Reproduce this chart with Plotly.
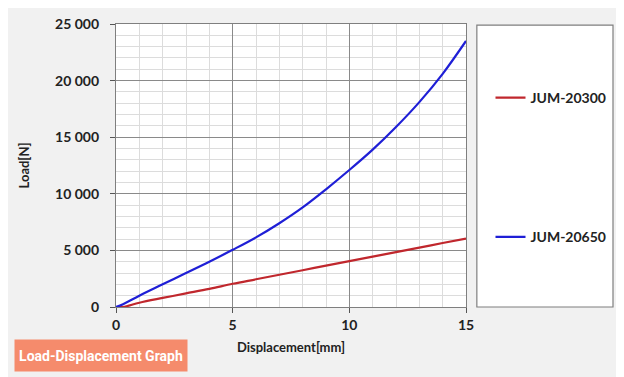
import plotly.graph_objects as go

# displacement [mm] and load [N]
disp = [0, 0.3, 1, 2, 3, 4, 5, 6, 7, 8, 9, 10, 11, 12, 13, 14, 15]
load_20300 = [0, 0, 380, 800, 1200, 1600, 2050, 2450, 2850, 3250, 3650, 4050, 4450, 4850, 5250, 5650, 6050]
load_20650 = [0, 250, 1000, 2000, 3000, 4000, 5050, 6150, 7400, 8800, 10400, 12100, 13900, 15900, 18100, 20600, 23500]

names = ['JUM-20300', 'JUM-20650']
colors = ['#c0272d', '#1f1fd6']
x_ticks = [0, 5, 10, 15]
y_ticks = [0, 5000, 10000, 15000, 20000, 25000]
y_ticklabels = ['0', '5 000', '10 000', '15 000', '20 000', '25 000']

font = 'Lato'

fig = go.Figure()
for i, (name, ys) in enumerate(zip(names, [load_20300, load_20650])):
    fig.add_trace(go.Scatter(x=disp, y=ys, mode='lines', name='<b>' + name + '</b>',
                             line=dict(color=colors[i], width=2.2, shape='spline'),
                             legendgroup=name))

axis_common = dict(showline=True, linecolor='#7f7f7f', linewidth=1.2, mirror=True,
                   showgrid=True, gridcolor='#8a8a8a', gridwidth=1, zeroline=False,
                   ticks='outside', ticklen=5, tickcolor='#555555', automargin=False,
                   tickfont=dict(family=font, size=14, color='#222222'))

fig.update_xaxes(range=[0, 15], tickvals=x_ticks, ticktext=['<b>%d</b>' % v for v in x_ticks],
                 minor=dict(dtick=1, showgrid=True, gridcolor='#dcdcdc', gridwidth=1),
                 title=dict(text='<b>Displacement[mm]</b>', font=dict(family=font, size=13, color='#222222'), standoff=10),
                 **axis_common)
fig.update_yaxes(range=[0, 25000], tickvals=y_ticks, ticktext=['<b>' + t + '</b>' for t in y_ticklabels],
                 minor=dict(dtick=1000, showgrid=True, gridcolor='#dcdcdc', gridwidth=1),
                 ticklabelstandoff=8,
                 title=dict(text='<b>Load[N]</b>', font=dict(family=font, size=13, color='#222222'), standoff=22),
                 **axis_common)

# legend box
fig.add_shape(type='rect', xref='paper', yref='paper', x0=1.031, x1=1.42, y0=0, y1=0.996,
              line=dict(color='#7f7f7f', width=1.2), fillcolor='white', layer='below')

fig.add_annotation(text='<b>Load-Displacement Graph</b>', xref='paper', yref='paper',
                   x=-0.291, y=-0.113, xanchor='left', yanchor='top', showarrow=False,
                   font=dict(family='Roboto', size=14, color='white'),
                   bgcolor='#f58b6c', borderpad=0, width=172, height=31)

# the page adds an 8px body margin, so the figure is shrunk by that much
fig.update_layout(
    width=616, height=369,
    margin=dict(l=108, r=158, t=16, b=70, autoexpand=False),
    paper_bgcolor='#f1f1f1', plot_bgcolor='white',
    showlegend=True,
    legend=dict(x=1.07, y=0.795, xanchor='left', yanchor='top', tracegroupgap=118,
                bgcolor='rgba(0,0,0,0)',
                font=dict(family=font, size=14, color='#222222')),
)

fig.write_html('out.html')
